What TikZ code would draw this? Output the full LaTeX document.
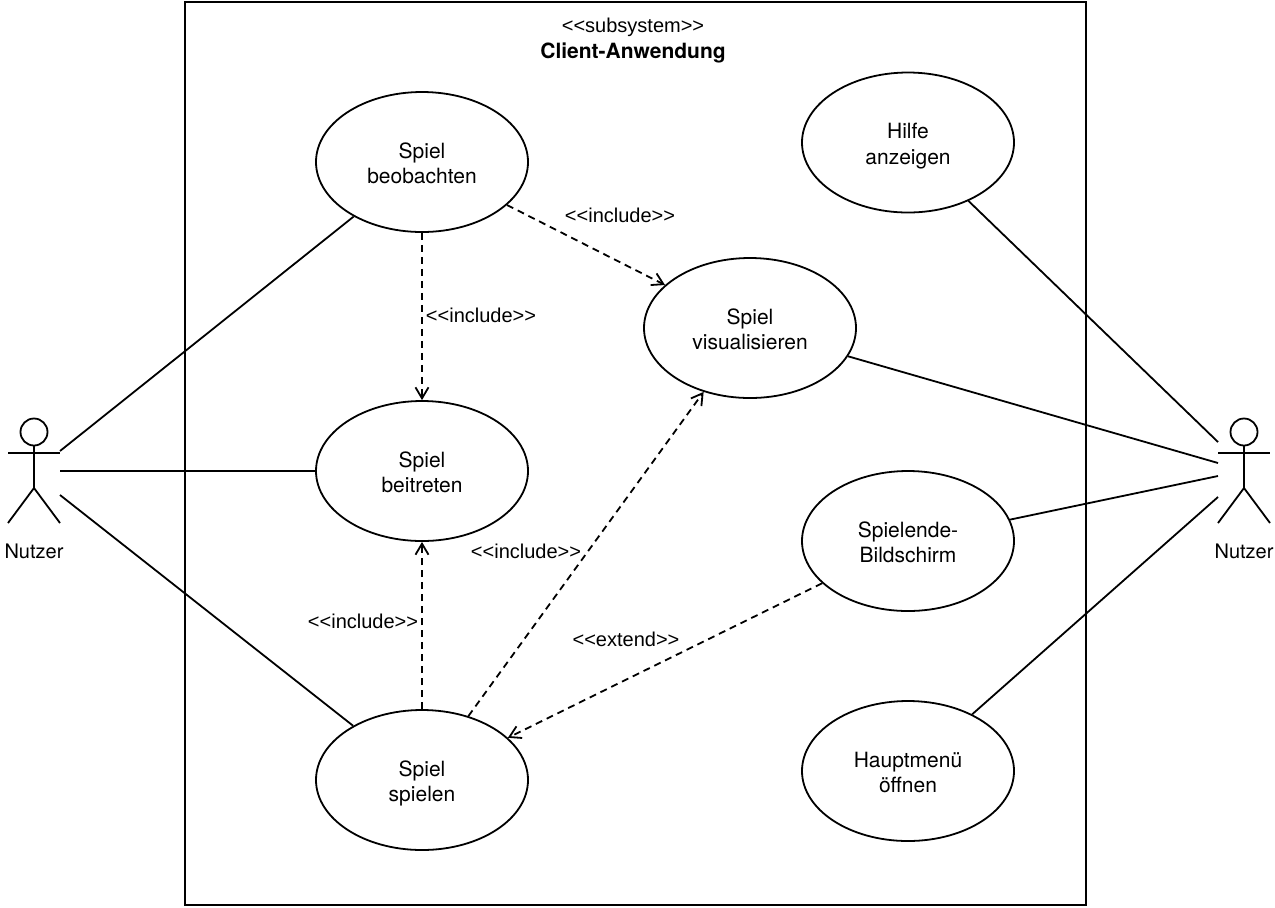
\documentclass[tikz,border=0pt]{standalone}
\usepackage{fontspec}
\setmainfont{TeX Gyre Heros}
\newfontfamily\stereofont{Liberation Sans}
\usepackage{tikz}
\usetikzlibrary{arrows.meta,positioning,shapes.geometric}

\newcommand{\stereotxt}[1]{<{}<#1>{}>}

\begin{document}
\begin{tikzpicture}[x=0.5pt, y=-0.5pt, line width=0.9pt, >={Straight Barb[length=5.5pt,width=6.5pt]}]
	\tikzset{
		usecase/.style={ellipse, draw=black, fill=white, minimum width=106pt, minimum height=70pt, inner sep=0pt, align=center, text height=21.5pt, text depth=0pt, font=\fontsize{10.5}{12.75}\selectfont},
		stereo/.style={font=\stereofont\fontsize{10}{12}\selectfont, inner sep=0pt},
		dep/.style={->, dash pattern=on 3.5pt off 2.5pt},
		actorname/.style={font=\fontsize{10}{12}\selectfont, inner sep=0pt}
	}
	\useasboundingbox (0,0) rectangle (1275,907);

	\node[draw=black, minimum width=450.5pt, minimum height=451.5pt, inner sep=0pt] (system) at (635.5,453.5) {};
	\node[stereo] (stereotype) at (633,27) {\stereotxt{subsystem}};
	\node[stereo, font=\fontsize{10.5}{12.5}\selectfont\bfseries] (systemname) at (633,53) {Client-Anwendung};

	\node[usecase] (beobachten) at (422,162) {Spiel\\beobachten};
	\node[usecase] (beitreten) at (422,471) {Spiel\\beitreten};
	\node[usecase] (spielen) at (422,780) {Spiel\\spielen};
	\node[usecase] (visualisieren) at (750,328) {Spiel\\visualisieren};
	\node[usecase] (hilfe) at (908,142.5) {Hilfe\\anzeigen};
	\node[usecase] (spielende) at (908,541) {Spielende-\\Bildschirm};
	\node[usecase] (hauptmenu) at (908,771) {Hauptmenü\\öffnen};

	% actors
	\foreach \x in {34,1244} {
		\draw (\x,432) circle (6.75pt);
		\draw (\x,445) -- (\x,488) -- (\x-26,523);
		\draw (\x,488) -- (\x+26,523);
		\draw (\x-26,453) -- (\x+26,453);
	}
	\node[actorname] (lnutzer) at (34,551) {Nutzer};
	\node[actorname] (rnutzer) at (1244,551) {Nutzer};
	\coordinate (lupper) at (60,451);
	\coordinate (lmid) at (60,471);
	\coordinate (llower) at (60,495);
	\coordinate (rupper) at (1218,442);
	\coordinate (rmid) at (1218,463);
	\coordinate (rmid2) at (1218,476);
	\coordinate (rlower) at (1218,497);

	\draw (lupper) -- (beobachten);
	\draw (lmid) -- (beitreten);
	\draw (llower) -- (spielen);
	\draw (hilfe) -- (rupper);
	\draw (visualisieren) -- (rmid);
	\draw (spielende) -- (rmid2);
	\draw (hauptmenu) -- (rlower);

	\draw[dep] (beobachten) -- (beitreten);
	\draw[dep] (beobachten) -- (visualisieren);
	\draw[dep] (spielen) -- (beitreten);
	\draw[dep] (spielen) -- (visualisieren);
	\draw[dep] (spielende) -- (spielen);

	\node[stereo] (inclbeob) at (481,315) {\stereotxt{include}};
	\node[stereo] (inclvis) at (620,215) {\stereotxt{include}};
	\node[stereo] (inclspiel) at (526,551) {\stereotxt{include}};
	\node[stereo] (inclbei) at (363,621) {\stereotxt{include}};
	\node[stereo] (extend) at (626,639) {\stereotxt{extend}};

\end{tikzpicture}
\end{document}
